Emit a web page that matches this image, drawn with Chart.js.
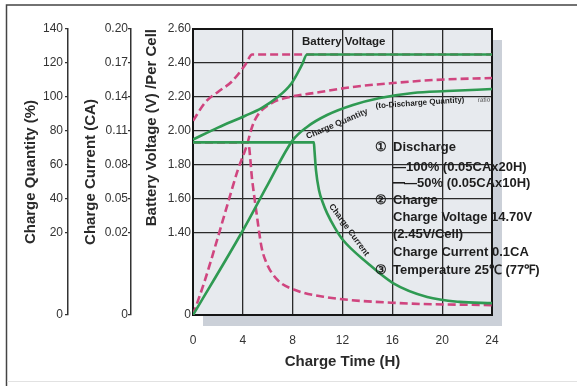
<!DOCTYPE html>
<html><head><meta charset="utf-8">
<script src="https://cdn.jsdelivr.net/npm/chart.js@4.4.1/dist/chart.umd.min.js"></script>
<style>html,body{margin:0;padding:0;background:#fff;}#wrap{width:577px;height:386px;}</style>
</head><body><div id="wrap"><canvas id="c" width="577" height="386"></canvas></div>
<script>
// ---- tick labels ----
const timeTicks = [0, 4, 8, 12, 16, 20, 24];
const voltageTicks = [0, 1.40, 1.60, 1.80, 2.00, 2.20, 2.40, 2.60];
const currentTicks = [0, 0.02, 0.05, 0.08, 0.11, 0.14, 0.17, 0.20];
const quantityTicks = [0, 20, 40, 60, 80, 100, 120, 140];

// ---- battery voltage (V / cell) ----
const voltTime100 = [0, 2, 4.2, 5.5, 6.8, 7.9, 8.75, 9.15, 24];
const volt100     = [1.95, 2.02, 2.09, 2.135, 2.20, 2.28, 2.39, 2.45, 2.45];
const voltTime50  = [0, 1, 2, 3.1, 4.2, 4.75, 24];
const volt50      = [2.06, 2.17, 2.23, 2.29, 2.39, 2.45, 2.45];

// ---- charge current (CA) ----
const currTime100 = [0, 9.7, 9.75, 9.87, 10.11, 10.43, 10.76, 11.4, 12.04, 14, 16.05, 18.8, 21.4, 24];
const curr100     = [0.10, 0.10, 0.093, 0.0756, 0.058, 0.0465, 0.0376, 0.0244, 0.0183, 0.0127, 0.0078, 0.0044, 0.0032, 0.0029];
const currTime50  = [0, 4.42, 4.75, 5.1, 5.5, 5.9, 6.8, 8.2, 10.6, 16.6, 24];
const curr50      = [0.10, 0.10, 0.0668, 0.0376, 0.0166, 0.0127, 0.0085, 0.0061, 0.0044, 0.0029, 0.0024];

// ---- charge quantity (%) ----
const qtyTime100 = [0, 4.0, 6.0, 8.0, 9.15, 10.76, 12.84, 15.0, 17.66, 20.4, 24];
const qty100     = [0, 21.5, 48.5, 74.5, 82.4, 89.4, 95.3, 99.4, 102.4, 103.5, 104.7];
const qtyTime50  = [0, 0.96, 2.0, 2.8, 3.6, 4.33, 4.74, 5.2, 6.34, 7.4, 10.2, 12.8, 16.05, 19.3, 24];
const qty50      = [0, 8.5, 19.0, 37.6, 57.1, 71.8, 82.4, 89.4, 96.5, 99.4, 102.9, 105.9, 108.2, 110, 111.2];

// ---- broken-axis scale (0, gap, then linear grid) ----
const BREAKS = {
  yV: {brk: 1.40, step: 0.20, gap: 2.41, ticks: voltageTicks},
  yC: {brk: 0.02, step: 0.03, gap: 2.41, ticks: currentTicks},
  yQ: {brk: 20,   step: 20,   gap: 2.41, ticks: quantityTicks}
};
function dispMin(id){ const b = BREAKS[id]; return b.brk - b.gap * b.step; }
class BrokenLinearScale extends Chart.LinearScale {
  static id = 'brokenLinear';
  static defaults = Chart.LinearScale.defaults;
  _toDisp(v){ const b = BREAKS[this.id]; if (v >= b.brk) return v; return b.brk - (b.brk - v) / b.brk * (b.gap * b.step); }
  _fromDisp(d){ const b = BREAKS[this.id]; if (d >= b.brk) return d; return b.brk - (b.brk - d) / (b.gap * b.step) * b.brk; }
  buildTicks(){ return BREAKS[this.id].ticks.map(v => ({value: v})); }
  getPixelForValue(v){ return (v === null || v === undefined) ? NaN : super.getPixelForValue(this._toDisp(v)); }
  getValueForPixel(p){ return this._fromDisp(super.getValueForPixel(p)); }
}
Chart.register(BrokenLinearScale);

const pts = (xs, ys) => xs.map((x, i) => ({x: x, y: ys[i]}));
const GREEN = '#2f9a52', MAG = '#d0457f';
const FAM = "'Liberation Sans', Arial, sans-serif";

const bgPlugin = {
  id: 'bg',
  beforeDraw(chart){
    const {ctx, chartArea: a} = chart;
    ctx.save();
    ctx.fillStyle = '#fff'; ctx.fillRect(0, 0, chart.width, chart.height);
    ctx.strokeStyle = '#444'; ctx.lineWidth = 1.5;
    ctx.beginPath(); ctx.moveTo(6.5, 386); ctx.lineTo(6.5, 5); ctx.lineTo(577, 5); ctx.stroke();
    ctx.strokeStyle = '#e2e2e2'; ctx.lineWidth = 1;
    ctx.beginPath(); ctx.moveTo(7, 381.5); ctx.lineTo(577, 381.5); ctx.stroke();
    ctx.fillStyle = '#cbd0d8';
    ctx.fillRect(a.left + 10, a.top + 11, a.right - a.left, a.bottom - a.top);
    ctx.fillStyle = '#e7eaee';
    ctx.fillRect(a.left, a.top, a.right - a.left, a.bottom - a.top);
    ctx.restore();
  },
  beforeDatasetsDraw(chart){
    const {ctx, chartArea: a} = chart;
    ctx.save(); ctx.strokeStyle = '#151515'; ctx.lineWidth = 2;
    ctx.strokeRect(a.left, a.top, a.right - a.left, a.bottom - a.top);
    ctx.restore();
  },
  afterDatasetsDraw(chart){
    const ctx = chart.ctx;
    ctx.save();
    ctx.fillStyle = '#1e1e1e';
    ctx.textBaseline = 'middle';
    ctx.textAlign = 'left';
    ctx.font = "bold 11.5px " + FAM;
    ctx.fillText('Battery Voltage', 302, 42);
    // along-curve labels
    const rot = (txt, x, y, ang, font, col) => {
      ctx.save(); ctx.translate(x, y); ctx.rotate(ang * Math.PI / 180);
      ctx.font = font; ctx.fillStyle = col || '#1e1e1e'; ctx.textAlign = 'center';
      ctx.fillText(txt, 0, 0); ctx.restore();
    };
    rot('Charge Quantity', 337, 124, -23, "bold 8.5px " + FAM);
    rot('(to-Discharge Quantity)', 420, 103, -4, "bold 8px " + FAM);
    rot('ratio', 484, 100, -2, "6.5px " + FAM, '#555');
    rot('Charge Current', 349, 230, 54, "bold 8.5px " + FAM);
    // notes block
    ctx.font = "bold 13px " + FAM;
    ctx.textAlign = 'center';
    ctx.fillText('\u2460', 381, 147);
    ctx.fillText('\u2461', 381, 200);
    ctx.fillText('\u2462', 381, 270);
    ctx.textAlign = 'left';
    ctx.fillText('Discharge', 393, 147);
    ctx.fillText('\u2014100% (0.05CAx20H)', 393, 167);
    ctx.fillRect(393, 182, 12, 1.6);
    ctx.fillText('\u201450% (0.05CAx10H)', 404, 183);
    ctx.fillText('Charge', 393, 200);
    ctx.fillText('Charge Voltage 14.70V', 393, 217);
    ctx.fillText('(2.45V/Cell)', 393, 234);
    ctx.fillText('Charge Current 0.1CA', 393, 252);
    ctx.fillText('Temperature 25\u2103 (77\u2109)', 393, 270);
    ctx.restore();
  }
};

const tickFont = {family: FAM, size: 12};
const titleFont = {family: FAM, size: 15, weight: 'bold'};

new Chart(document.getElementById('c'), {
  type: 'line',
  data: {
    datasets: [
      {label: 'Battery Voltage 100%', data: pts(voltTime100, volt100), yAxisID: 'yV', borderColor: GREEN, order: 0},
      {label: 'Charge Current 100%', data: pts(currTime100, curr100), yAxisID: 'yC', borderColor: GREEN, order: 0},
      {label: 'Charge Quantity 100%', data: pts(qtyTime100, qty100), yAxisID: 'yQ', borderColor: GREEN, order: 0},
      {label: 'Battery Voltage 50%', data: pts(voltTime50, volt50), yAxisID: 'yV', borderColor: MAG, borderDash: [8, 4], order: 1},
      {label: 'Charge Current 50%', data: pts(currTime50, curr50), yAxisID: 'yC', borderColor: MAG, borderDash: [8, 4], order: 1},
      {label: 'Charge Quantity 50%', data: pts(qtyTime50, qty50), yAxisID: 'yQ', borderColor: MAG, borderDash: [8, 4], order: 1}
    ]
  },
  options: {
    responsive: false, animation: false, devicePixelRatio: 1,
    layout: {padding: {left: 0, top: 29, right: 85, bottom: 0}},
    elements: {line: {borderWidth: 2.6, cubicInterpolationMode: 'monotone', fill: false}, point: {radius: 0}},
    plugins: {legend: {display: false}, tooltip: {enabled: false}},
    scales: {
      x: {
        type: 'linear', position: 'bottom', min: 0, max: 24,
        afterBuildTicks: s => { s.ticks = timeTicks.map(v => ({value: v})); },
        afterFit: s => { s.height = 71; },
        ticks: {padding: 18, color: '#333', font: tickFont, autoSkip: false},
        grid: {color: '#2a2a2a', lineWidth: 1.3, drawTicks: false},
        border: {color: '#151515', width: 2},
        title: {display: true, text: 'Charge Time (H)', color: '#2a2a2a', font: titleFont, padding: {top: 0, bottom: 15}}
      },
      yQ: {
        type: 'brokenLinear', position: 'left', weight: 3, min: dispMin('yQ'), max: 140,
        afterFit: s => { s.width = 68; },
        ticks: {padding: 2, color: '#333', font: tickFont, autoSkip: false, callback: v => String(v)},
        grid: {drawOnChartArea: false, drawTicks: true, tickLength: 3, color: '#333', lineWidth: 1.3},
        border: {display: true, color: '#333', width: 1.5},
        title: {display: true, text: 'Charge Quantity (%)', color: '#2a2a2a', font: titleFont, padding: {top: 22, bottom: 0}}
      },
      yC: {
        type: 'brokenLinear', position: 'left', weight: 2, min: dispMin('yC'), max: 0.20,
        afterFit: s => { s.width = 63; },
        ticks: {padding: 0, color: '#333', font: tickFont, autoSkip: false, callback: v => v === 0 ? '0' : v.toFixed(2)},
        grid: {drawOnChartArea: false, drawTicks: true, tickLength: 3, color: '#333', lineWidth: 1.3},
        border: {display: true, color: '#333', width: 1.5},
        title: {display: true, text: 'Charge Current (CA)', color: '#2a2a2a', font: titleFont, padding: {top: 14, bottom: 0}}
      },
      yV: {
        type: 'brokenLinear', position: 'left', weight: 1, min: dispMin('yV'), max: 2.60,
        afterFit: s => { s.width = 62; },
        ticks: {padding: 2, color: '#333', font: tickFont, autoSkip: false, callback: v => v === 0 ? '0' : v.toFixed(2)},
        grid: {color: '#2a2a2a', lineWidth: 1.3, drawTicks: false},
        border: {display: true, color: '#151515', width: 2},
        title: {display: true, text: 'Battery Voltage (V) /Per Cell', align: 'end', color: '#2a2a2a', font: titleFont, padding: {top: 12, bottom: 0}}
      }
    }
  },
  plugins: [bgPlugin]
});
</script></body></html>
